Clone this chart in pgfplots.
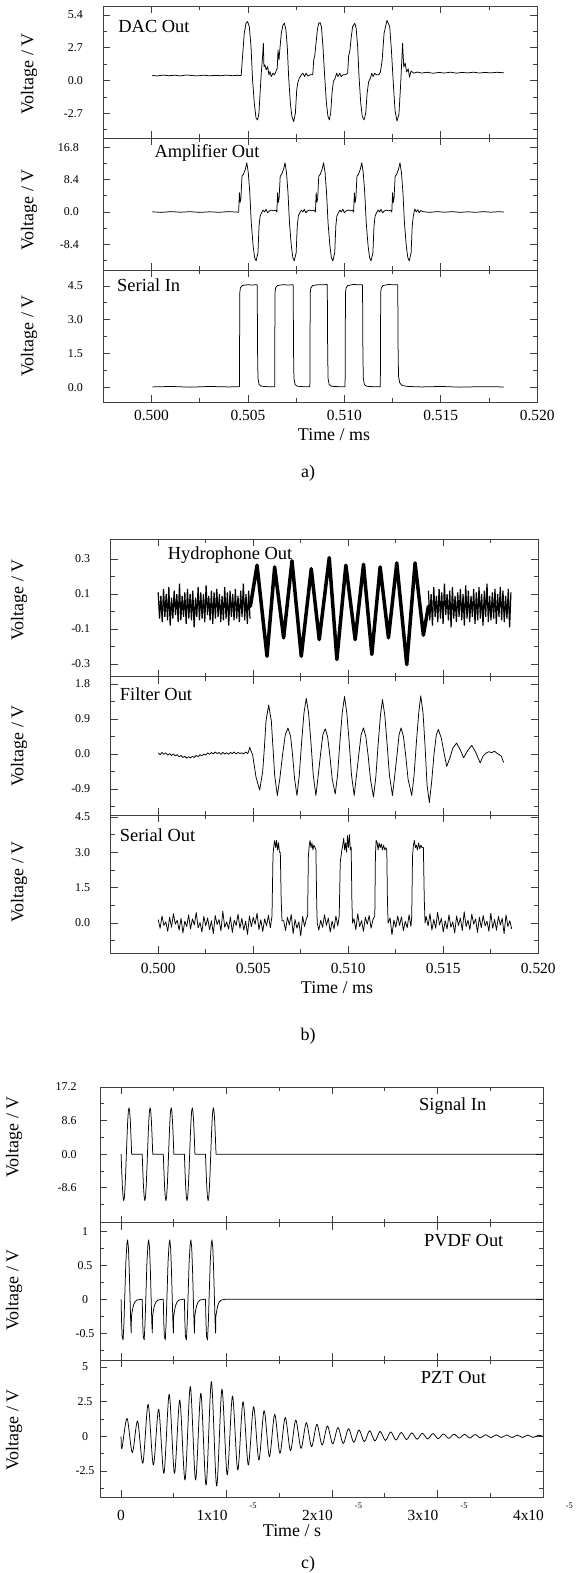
\documentclass[border=0pt]{standalone}
\usepackage{pgfplots}
\pgfplotsset{compat=1.18}
\usepackage{fontspec}
\setmainfont{Liberation Serif}
\newcommand\fs[1]{\fontsize{#1}{#1}\selectfont}
\pgfplotsset{
  panel/.style={
    scale only axis, anchor=north west, clip=true,
    tick align=inside, major tick length=7bp, minor tick length=4bp,
    axis line style={line width=0.9bp, black!75},
    tick style={line width=0.8bp, black!75},
    scaled ticks=false,
    yticklabel style={font=\fs{12}},
    xticklabel style={font=\fs{15.5}, anchor=base},
    xticklabels={,,,,},
  },
  abx/.style={xmin=0.4975, xmax=0.520, xtick={0.500,0.505,0.510,0.515,0.520}, minor x tick num=1},
  cx/.style={xmin=-2e-6, xmax=4e-5, xtick={0,1e-5,2e-5,3e-5,4e-5}, minor x tick num=1},
  tr/.style={black, line width=0.75bp, line join=round, mark=none},
}
\begin{document}
\begin{tikzpicture}[x=1bp,y=1bp]
\useasboundingbox (0,0) rectangle (585,-1573);
% ================= group a =================
\begin{axis}[panel, abx, at={(103.3bp,-6bp)}, width=433.9bp, height=132bp,
  ymin=-4.73, ymax=6.14, ytick={-2.7,0,2.7,5.4}, yticklabels={-2.7,0.0,2.7,5.4},
  minor ytick={-4.05,-1.35,1.35,4.05}, yticklabel style={xshift=-17bp}]
\addplot[tr] coordinates {
(0.50004,0.42) (0.50030,0.38) (0.50060,0.45) (0.50090,0.40) (0.50120,0.44) (0.50150,0.38) (0.50180,0.46) (0.50210,0.41) (0.50240,0.39) (0.50270,0.44) (0.50300,0.39) (0.50330,0.43) (0.50360,0.40) (0.50390,0.45) (0.50420,0.40) (0.50445,0.43) (0.50465,0.41)
(0.50472,1.98) (0.50481,3.90) (0.50490,4.72) (0.50498,4.86) (0.50507,4.45) (0.50516,2.80) (0.50524,0.05) (0.50533,-1.87) (0.50542,-3.10) (0.50550,-3.24) (0.50557,-2.69) (0.50564,-0.77) (0.50569,0.60) (0.50576,1.98) (0.50580,3.07) (0.50583,1.15) (0.50588,1.29) (0.50595,0.88) (0.50602,1.15) (0.50609,0.47) (0.50614,0.74) (0.50621,0.33) (0.50630,0.60) (0.50638,0.47) (0.50645,0.74) (0.50652,1.02) (0.50656,2.52) (0.50661,1.70) (0.50666,2.66) (0.50673,3.90) (0.50682,4.58) (0.50689,4.72) (0.50697,4.17) (0.50704,2.80) (0.50711,0.33) (0.50720,-1.87) (0.50728,-2.96) (0.50737,-3.38) (0.50746,-2.69) (0.50753,-0.77) (0.50758,-0.22) (0.50766,0.19) (0.50777,0.47) (0.50785,0.60) (0.50794,0.33) (0.50801,0.60) (0.50811,0.38) (0.50822,0.47) (0.50836,0.47) (0.50841,1.70) (0.50846,1.98) (0.50853,3.07) (0.50860,4.17) (0.50867,4.72) (0.50874,4.77) (0.50881,4.45) (0.50889,2.80) (0.50898,0.33) (0.50907,-1.87) (0.50915,-2.96) (0.50922,-3.24) (0.50929,-2.69) (0.50936,-1.04) (0.50943,-0.08) (0.50952,0.19) (0.50960,0.60) (0.50967,0.33) (0.50976,0.60) (0.50984,0.33) (0.50993,0.47) (0.51005,0.47) (0.51017,0.60) (0.51022,1.98) (0.51029,2.52) (0.51036,3.62) (0.51043,4.45) (0.51054,4.72) (0.51061,4.31) (0.51069,2.80) (0.51076,0.33) (0.51085,-1.87) (0.51093,-2.96) (0.51102,-3.24) (0.51111,-2.69) (0.51118,-1.04) (0.51126,-0.08) (0.51135,0.19) (0.51142,0.60) (0.51149,0.33) (0.51157,0.60) (0.51166,0.47) (0.51178,0.47) (0.51187,0.70) (0.51196,1.67) (0.51206,3.90) (0.51221,4.96) (0.51235,4.45) (0.51244,2.50) (0.51254,-0.28) (0.51263,-2.50) (0.51273,-3.34) (0.51283,-2.78) (0.51292,-0.28) (0.51302,3.06) (0.51308,1.11) (0.51315,1.45) (0.51323,0.70) (0.51331,0.97) (0.51338,0.28) (0.51346,0.78) (0.51360,0.61) (0.51379,0.70)
(0.51400,0.62) (0.51430,0.68) (0.51460,0.60) (0.51490,0.67) (0.51520,0.62) (0.51550,0.69) (0.51580,0.61) (0.51610,0.67) (0.51640,0.63) (0.51670,0.69) (0.51700,0.62) (0.51730,0.67) (0.51760,0.63) (0.51790,0.68) (0.51827,0.64)
};
\end{axis}
\begin{axis}[panel, abx, at={(103.3bp,-138bp)}, width=433.9bp, height=132bp,
  ymin=-15.08, ymax=19.24, ytick={-8.4,0,8.4,16.8}, yticklabels={-8.4,0.0,8.4,16.8},
  minor ytick={-12.6,-4.2,4.2,12.6}, yticklabel style={xshift=-21bp}]
\addplot[tr] coordinates {
(0.50004,0.05) (0.50050,-0.10) (0.50100,0.10) (0.50150,-0.05) (0.50200,0.08) (0.50250,-0.10) (0.50300,0.05) (0.50350,-0.08) (0.50400,0.10) (0.50450,-0.05)
(0.504519,0) (0.504557,5.0) (0.504596,2.5) (0.504634,3.5) (0.504692,9.3) (0.504769,9.8) (0.504865,11.1) (0.504942,12.8) (0.505019,10.2) (0.505096,5.0) (0.505173,-2.8) (0.505269,-8.8) (0.505346,-11.8) (0.505423,-12.7) (0.505519,-10.6) (0.505577,-3.6) (0.505634,-1.0) (0.505711,-0.2) (0.505788,0.5) (0.505865,0.0) (0.505942,0.7) (0.506019,-0.2) (0.506115,0.3) (0.506211,0.5) (0.506327,0.3) (0.506442,0.5)
(0.506500,0) (0.506538,5.0) (0.506577,2.5) (0.506615,3.5) (0.506673,9.3) (0.506750,9.8) (0.506846,11.1) (0.506923,12.8) (0.507000,10.2) (0.507077,5.0) (0.507154,-2.8) (0.507250,-8.8) (0.507327,-11.8) (0.507404,-12.7) (0.507500,-10.6) (0.507558,-3.6) (0.507615,-1.0) (0.507692,-0.2) (0.507769,0.5) (0.507846,0.0) (0.507923,0.7) (0.508000,-0.2) (0.508096,0.3) (0.508192,0.5) (0.508308,0.3) (0.508423,0.5)
(0.508500,0) (0.508538,5.0) (0.508577,2.5) (0.508615,3.5) (0.508673,9.3) (0.508750,9.8) (0.508846,11.1) (0.508923,12.8) (0.509000,10.2) (0.509077,5.0) (0.509154,-2.8) (0.509250,-8.8) (0.509327,-11.8) (0.509404,-12.7) (0.509500,-10.6) (0.509558,-3.6) (0.509615,-1.0) (0.509692,-0.2) (0.509769,0.5) (0.509846,0.0) (0.509923,0.7) (0.510000,-0.2) (0.510096,0.3) (0.510192,0.5) (0.510308,0.3) (0.510423,0.5)
(0.510480,0) (0.510518,5.0) (0.510557,2.5) (0.510595,3.5) (0.510653,9.3) (0.510730,9.8) (0.510826,11.1) (0.510903,12.8) (0.510980,10.2) (0.511057,5.0) (0.511134,-2.8) (0.511230,-8.8) (0.511307,-11.8) (0.511384,-12.7) (0.511480,-10.6) (0.511538,-3.6) (0.511595,-1.0) (0.511672,-0.2) (0.511749,0.5) (0.511826,0.0) (0.511903,0.7) (0.511980,-0.2) (0.512076,0.3) (0.512172,0.5) (0.512288,0.3) (0.512403,0.5)
(0.512461,0) (0.512499,5.0) (0.512538,2.5) (0.512576,3.5) (0.512634,9.3) (0.512711,9.8) (0.512807,11.1) (0.512884,12.8) (0.512961,10.2) (0.513038,5.0) (0.513115,-2.8) (0.513211,-8.8) (0.513288,-11.8) (0.513365,-12.7) (0.513461,-10.6) (0.513519,-3.6) (0.513576,-1.0) (0.513653,0.8) (0.513730,0.0) (0.513807,0.6) (0.513884,-0.2) (0.513961,0.4) (0.514076,0.1)
(0.51440,-0.1) (0.51480,0.1) (0.51520,-0.05) (0.51560,0.1) (0.51600,-0.1) (0.51640,0.05) (0.51680,-0.08) (0.51720,0.1) (0.51760,-0.05) (0.51800,0.08) (0.51827,0.0)
};
\end{axis}
\begin{axis}[panel, abx, at={(103.3bp,-270bp)}, width=433.9bp, height=132bp,
  ymin=-0.65, ymax=5.21, ytick={0,1.5,3,4.5}, yticklabels={0.0,1.5,3.0,4.5},
  minor ytick={0.75,2.25,3.75}, yticklabel style={xshift=-17bp},
  xticklabels={0.500,0.505,0.510,0.515,0.520}, xticklabel style={yshift=-18bp}]
\addplot[tr] coordinates {
(0.50004,0.02) (0.50100,0.04) (0.50200,0.01) (0.50300,0.04) (0.50400,0.02) (0.504548,0.03)
(0.504558,0.03) (0.504578,4.2) (0.504610,4.42) (0.504700,4.52) (0.505000,4.56) (0.505200,4.54) (0.505471,4.56) (0.505481,4.5) (0.505501,1.5) (0.505521,0.4) (0.505580,0.12) (0.505700,0.05) (0.506000,0.03) (0.506374,0.03)
(0.506384,0.03) (0.506404,4.2) (0.506436,4.42) (0.506526,4.52) (0.506800,4.56) (0.507100,4.54) (0.507336,4.56) (0.507346,4.5) (0.507366,1.5) (0.507386,0.4) (0.507445,0.12) (0.507565,0.05) (0.507900,0.03) (0.508201,0.03)
(0.508211,0.03) (0.508231,4.2) (0.508263,4.42) (0.508353,4.52) (0.508650,4.56) (0.508900,4.55) (0.509105,4.57) (0.509115,4.5) (0.509135,1.5) (0.509155,0.4) (0.509214,0.12) (0.509334,0.05) (0.509700,0.03) (0.510028,0.03)
(0.510038,0.03) (0.510058,4.2) (0.510090,4.42) (0.510180,4.52) (0.510480,4.57) (0.510750,4.55) (0.510932,4.56) (0.510942,4.5) (0.510962,1.5) (0.510982,0.4) (0.511041,0.12) (0.511161,0.05) (0.511500,0.03) (0.511855,0.03)
(0.511865,0.03) (0.511885,4.2) (0.511917,4.42) (0.512007,4.52) (0.512300,4.57) (0.512550,4.55) (0.512759,4.56) (0.512769,4.5) (0.512789,1.5) (0.512809,0.5) (0.512870,0.2) (0.513000,0.08) (0.513300,0.04)
(0.51400,0.02) (0.51500,0.04) (0.51600,0.01) (0.51700,0.03) (0.51827,0.02)
};
\end{axis}
% ================= group b =================
\begin{axis}[panel, abx, at={(110.7bp,-539.3bp)}, width=427.6bp, height=137.2bp,
  ymin=-0.371, ymax=0.413, ytick={-0.3,-0.1,0.1,0.3}, yticklabels={-0.3,-0.1,0.1,0.3},
  minor ytick={-0.2,0,0.2}, yticklabel style={xshift=-17bp}]
\addplot[black, line width=1.2bp, mark=none] coordinates {
(0.50000,0.11) (0.50007,-0.04) (0.50014,0.09) (0.50021,-0.06) (0.50028,0.13) (0.50035,-0.03) (0.50042,0.10) (0.50049,-0.05) (0.50056,0.14) (0.50063,-0.08) (0.50070,0.08) (0.50077,-0.04) (0.50084,0.12) (0.50091,-0.02) (0.50098,0.10) (0.50105,-0.06) (0.50112,0.16) (0.50119,-0.05) (0.50126,0.09) (0.50133,-0.03) (0.50140,0.11) (0.50147,-0.07) (0.50154,0.13) (0.50161,-0.04) (0.50168,0.10) (0.50175,-0.05) (0.50182,0.12) (0.50189,-0.09) (0.50196,0.08) (0.50203,-0.03) (0.50210,0.14) (0.50217,-0.05) (0.50224,0.11) (0.50231,-0.04) (0.50238,0.10) (0.50245,-0.06) (0.50252,0.15) (0.50259,-0.02) (0.50266,0.09) (0.50273,-0.05) (0.50280,0.12) (0.50287,-0.07) (0.50294,0.11) (0.50301,-0.04) (0.50308,0.13) (0.50315,-0.03) (0.50322,0.10) (0.50329,-0.06) (0.50336,0.09) (0.50343,-0.05) (0.50350,0.14) (0.50357,-0.04) (0.50364,0.11) (0.50371,-0.08) (0.50378,0.12) (0.50385,-0.03) (0.50392,0.10) (0.50399,-0.05) (0.50406,0.13) (0.50413,-0.04) (0.50420,0.09) (0.50427,-0.06) (0.50434,0.12) (0.50441,-0.03) (0.50448,0.16) (0.50455,-0.05) (0.50462,0.10) (0.50469,-0.07) (0.50476,0.12) (0.50483,-0.04)
};
\addplot[black, line width=3.5bp, line join=round, line cap=round, mark=none] coordinates {
(0.504849,0.03) (0.505200,0.265) (0.505725,-0.255) (0.506127,0.255) (0.506600,-0.15) (0.507038,0.29) (0.507528,-0.255) (0.508053,0.245) (0.508473,-0.16) (0.508999,0.308) (0.509401,-0.274) (0.509874,0.265) (0.510364,-0.16) (0.510802,0.27) (0.511239,-0.245) (0.511677,0.255) (0.512115,-0.15) (0.512553,0.278) (0.513078,-0.303) (0.513515,0.278) (0.513953,-0.135) (0.514216,0.03)
};
\addplot[black, line width=1.2bp, mark=none] coordinates {
(0.51422,0.12) (0.51429,-0.05) (0.51436,0.10) (0.51443,-0.08) (0.51450,0.14) (0.51457,-0.03) (0.51464,0.09) (0.51471,-0.06) (0.51478,0.13) (0.51485,-0.04) (0.51492,0.11) (0.51499,-0.07) (0.51506,0.16) (0.51513,-0.02) (0.51520,0.10) (0.51527,-0.05) (0.51534,0.12) (0.51541,-0.09) (0.51548,0.14) (0.51555,-0.04) (0.51562,0.09) (0.51569,-0.06) (0.51576,0.11) (0.51583,-0.03) (0.51590,0.13) (0.51597,-0.05) (0.51604,0.10) (0.51611,-0.08) (0.51618,0.15) (0.51625,-0.04) (0.51632,0.12) (0.51639,-0.06) (0.51646,0.09) (0.51653,-0.03) (0.51660,0.13) (0.51667,-0.07) (0.51674,0.11) (0.51681,-0.05) (0.51688,0.14) (0.51695,-0.04) (0.51702,0.10) (0.51709,-0.08) (0.51716,0.12) (0.51723,-0.03) (0.51730,0.16) (0.51737,-0.06) (0.51744,0.09) (0.51751,-0.05) (0.51758,0.11) (0.51765,-0.04) (0.51772,0.13) (0.51779,-0.07) (0.51786,0.10) (0.51793,-0.03) (0.51800,0.14) (0.51807,-0.05) (0.51814,0.12) (0.51821,-0.06) (0.51828,0.09) (0.51835,-0.04) (0.51842,0.13) (0.51849,-0.09) (0.51856,0.11)
};
\end{axis}
\begin{axis}[panel, abx, at={(110.7bp,-676.5bp)}, width=427.6bp, height=138.5bp,
  ymin=-1.572, ymax=1.994, ytick={-0.9,0,0.9,1.8}, yticklabels={-0.9,0.0,0.9,1.8},
  minor ytick={-1.35,-0.45,0.45,1.35}, yticklabel style={xshift=-17bp}]
\addplot[tr] coordinates {
(0.50000,0.03) (0.50010,-0.02) (0.50020,0.04) (0.50030,-0.01) (0.50040,0.03) (0.50050,-0.03) (0.50060,0.01) (0.50070,-0.04) (0.50080,0.00) (0.50090,-0.05) (0.50100,-0.02) (0.50110,-0.07) (0.50120,-0.04) (0.50130,-0.09) (0.50140,-0.06) (0.50150,-0.11) (0.50160,-0.07) (0.50170,-0.10) (0.50180,-0.06) (0.50190,-0.09) (0.50200,-0.04) (0.50210,-0.07) (0.50220,-0.02) (0.50230,-0.05) (0.50240,0.00) (0.50250,-0.03) (0.50260,0.03) (0.50270,-0.01) (0.50280,0.04) (0.50290,0.00) (0.50300,0.05) (0.50310,0.01) (0.50320,0.04) (0.50330,-0.01) (0.50340,0.04) (0.50350,0.00) (0.50360,0.03) (0.50370,-0.01) (0.50380,0.04) (0.50390,0.01) (0.50400,0.05) (0.50410,0.00) (0.50420,0.04) (0.50430,0.01) (0.50440,0.03) (0.50450,0.00) (0.50460,0.05) (0.50470,0.01) (0.50475,0.05)
(0.504814,0.17) (0.504972,-0.03) (0.505147,-0.60) (0.505340,-0.93) (0.505497,-0.45) (0.505585,0.15) (0.505672,0.85) (0.505812,1.26) (0.505952,0.85) (0.506040,0.15) (0.506127,-0.55) (0.506268,-1.07) (0.506408,-0.60) (0.506548,0.00) (0.506688,0.50) (0.506828,0.67) (0.506968,0.45) (0.507073,-0.05) (0.507178,-0.65) (0.507300,-1.07) (0.507423,-0.55) (0.507546,0.30) (0.507668,1.05) (0.507791,1.43) (0.507913,1.05) (0.508036,0.30) (0.508158,-0.55) (0.508298,-1.07) (0.508421,-0.55) (0.508543,0.00) (0.508666,0.50) (0.508789,0.65) (0.508911,0.45) (0.509034,-0.05) (0.509156,-0.65) (0.509314,-1.03) (0.509436,-0.55) (0.509559,0.30) (0.509681,1.05) (0.509804,1.48) (0.509926,1.05) (0.510049,0.30) (0.510172,-0.55) (0.510312,-1.07) (0.510434,-0.55) (0.510557,0.00) (0.510679,0.50) (0.510802,0.67) (0.510924,0.45) (0.511047,-0.05) (0.511169,-0.65) (0.511327,-1.11) (0.511450,-0.60) (0.511572,0.25) (0.511695,1.00) (0.511800,1.40) (0.511922,1.00) (0.512045,0.25) (0.512167,-0.55) (0.512325,-1.07) (0.512448,-0.55) (0.512570,0.00) (0.512675,0.50) (0.512780,0.67) (0.512903,0.45) (0.513025,-0.05) (0.513148,-0.65) (0.513340,-1.07) (0.513463,-0.55) (0.513585,0.30) (0.513708,1.05) (0.513813,1.50) (0.513936,1.05) (0.514041,0.20) (0.514146,-0.80) (0.514268,-1.25) (0.514391,-0.70) (0.514513,0.00) (0.514636,0.50) (0.514741,0.63)
(0.51490,0.40) (0.51505,0.00) (0.51518,-0.32) (0.51535,-0.10) (0.51550,0.15) (0.51570,0.28) (0.51590,0.10) (0.51607,-0.10) (0.51630,0.10) (0.51650,0.22) (0.51670,0.05) (0.51694,-0.23) (0.51710,-0.05) (0.51724,0.02) (0.51740,0.06) (0.51753,0.03) (0.51770,0.07) (0.51782,0.02) (0.51795,-0.02) (0.51806,-0.06) (0.51812,-0.15) (0.51818,-0.22)
};
\end{axis}
\begin{axis}[panel, abx, at={(110.7bp,-815bp)}, width=427.6bp, height=138bp,
  ymin=-1.27, ymax=4.58, ytick={0,1.5,3,4.5}, yticklabels={0.0,1.5,3.0,4.5},
  minor ytick={-0.75,0.75,2.25,3.75}, yticklabel style={xshift=-17bp},
  xticklabels={0.500,0.505,0.510,0.515,0.520}, xticklabel style={yshift=-20.3bp}]
\addplot[tr] coordinates {
(0.50000,0.15) (0.50010,-0.22) (0.50020,0.30) (0.50030,-0.10) (0.50040,0.05) (0.50050,-0.35) (0.50060,0.25) (0.50070,-0.18) (0.50080,0.40) (0.50090,-0.05) (0.50100,0.12) (0.50110,-0.30) (0.50120,0.20) (0.50130,-0.42) (0.50140,0.08) (0.50150,-0.15) (0.50160,0.35) (0.50170,-0.25) (0.50180,0.18) (0.50190,-0.08) (0.50200,0.45) (0.50210,-0.20) (0.50220,0.02) (0.50230,-0.38) (0.50240,0.28) (0.50250,-0.12) (0.50260,0.22) (0.50270,-0.28) (0.50280,0.10) (0.50290,-0.45) (0.50300,0.32) (0.50310,-0.06) (0.50320,0.15) (0.50330,-0.33) (0.50340,0.50) (0.50350,-0.18) (0.50360,0.05) (0.50370,-0.25) (0.50380,0.26) (0.50390,-0.40) (0.50400,0.12) (0.50410,-0.10) (0.50420,0.38) (0.50430,-0.22) (0.50440,0.20) (0.50450,-0.30) (0.50460,0.08) (0.50470,-0.48) (0.50480,0.30) (0.50490,-0.15) (0.50500,0.24) (0.50510,-0.05) (0.50520,0.42) (0.50530,-0.28) (0.50540,0.14) (0.50550,-0.36) (0.50560,0.18) (0.50570,-0.12) (0.50580,0.33) (0.50590,-0.20)
(0.505987,0.3) (0.506040,2.9) (0.506090,3.3) (0.506130,3.5) (0.506180,3.2) (0.506230,3.5) (0.506280,3.1) (0.506330,3.4) (0.506380,3.0) (0.506425,3.0) (0.506470,1.0) (0.506513,0.1)
(0.50660,0.10) (0.50670,-0.32) (0.50680,0.25) (0.50690,-0.08) (0.50700,0.36) (0.50710,-0.45) (0.50720,0.15) (0.50730,-0.22) (0.50740,0.05) (0.50750,-0.55) (0.50760,0.28) (0.50770,-0.15) (0.50780,0.20)
(0.507861,0.3) (0.507900,2.8) (0.507948,3.3) (0.507990,3.5) (0.508040,3.2) (0.508090,3.4) (0.508140,3.1) (0.508190,3.3) (0.508250,3.2) (0.508298,3.1) (0.508340,0.8) (0.508368,0.0)
(0.50845,-0.30) (0.50855,0.12) (0.50865,-0.18) (0.50875,0.35) (0.50885,-0.10) (0.50895,0.22) (0.50905,-0.38) (0.50915,0.08) (0.50925,-0.25) (0.50935,0.30) (0.50945,-0.12)
(0.509524,0.3) (0.509580,2.6) (0.509664,3.1) (0.509710,3.3) (0.509760,3.6) (0.509810,3.1) (0.509860,3.4) (0.509910,3.0) (0.509960,3.7) (0.510010,3.2) (0.510060,3.75) (0.510110,3.1) (0.510154,3.2) (0.510190,1.0) (0.510224,0.0)
(0.51030,0.18) (0.51040,-0.28) (0.51050,0.40) (0.51060,-0.15) (0.51070,0.10) (0.51080,-0.35) (0.51090,0.25) (0.51100,-0.05) (0.51110,0.32) (0.51120,-0.22) (0.51130,0.15)
(0.511397,0.3) (0.511430,2.9) (0.511467,3.5) (0.511520,3.4) (0.511570,3.1) (0.511620,3.4) (0.511680,3.2) (0.511740,3.35) (0.511800,3.1) (0.511860,3.3) (0.511920,3.1) (0.511980,3.2) (0.512027,3.1) (0.512060,1.0) (0.512097,0.0)
(0.51220,0.22) (0.51230,-0.50) (0.51240,0.12) (0.51250,-0.18) (0.51260,0.30) (0.51270,-0.10) (0.51280,0.26) (0.51290,-0.32) (0.51300,0.08) (0.51310,-0.20) (0.51320,0.35) (0.51330,-0.15)
(0.513340,0.3) (0.513380,2.8) (0.513428,3.3) (0.513480,3.5) (0.513530,3.2) (0.513580,3.3) (0.513640,3.1) (0.513700,3.4) (0.513760,3.15) (0.513820,3.3) (0.513880,3.2) (0.513953,3.2) (0.514000,1.0) (0.514041,0.0)
(0.51410,0.28) (0.51420,-0.12) (0.51430,0.40) (0.51440,-0.30) (0.51450,0.15) (0.51460,-0.22) (0.51470,0.45) (0.51480,-0.08) (0.51490,0.20) (0.51500,-0.38) (0.51510,0.10) (0.51520,-0.25) (0.51530,0.35) (0.51540,-0.18) (0.51550,0.05) (0.51560,-0.42) (0.51570,0.30) (0.51580,-0.10) (0.51590,0.22) (0.51600,-0.32) (0.51610,0.48) (0.51620,-0.15) (0.51630,0.12) (0.51640,-0.28) (0.51650,0.38) (0.51660,-0.05) (0.51670,0.18) (0.51680,-0.40) (0.51690,0.25) (0.51700,-0.20) (0.51710,0.32) (0.51720,-0.12) (0.51730,0.08) (0.51740,-0.35) (0.51750,0.42) (0.51760,-0.22) (0.51770,0.15) (0.51780,-0.30) (0.51790,0.28) (0.51800,-0.08) (0.51810,0.20) (0.51820,-0.45) (0.51830,0.35) (0.51840,-0.15) (0.51850,0.10) (0.51860,-0.25)
};
\end{axis}
% ================= group c =================
\begin{axis}[panel, cx, at={(100bp,-1087bp)}, width=443bp, height=135.7bp,
  ymin=-17.56, ymax=17.2, ytick={-8.6,0,8.6,17.2}, yticklabels={-8.6,0.0,8.6,17.2},
  minor ytick={-12.9,-4.3,4.3,12.9}, yticklabel style={xshift=-20bp}]
\addplot[tr] coordinates {
(0,0) (0.0625e-6,-4.55) (0.125e-6,-8.41) (0.1875e-6,-11.0) (0.25e-6,-11.9) (0.3125e-6,-11.0) (0.375e-6,-8.41) (0.4375e-6,-4.55) (0.5e-6,0) (0.5625e-6,4.55) (0.625e-6,8.41) (0.6875e-6,11.0) (0.75e-6,11.9) (0.8125e-6,11.0) (0.875e-6,8.41) (0.9375e-6,4.55) (1e-6,0)
(2e-6,0) (2.0625e-6,-4.55) (2.125e-6,-8.41) (2.1875e-6,-11.0) (2.25e-6,-11.9) (2.3125e-6,-11.0) (2.375e-6,-8.41) (2.4375e-6,-4.55) (2.5e-6,0) (2.5625e-6,4.55) (2.625e-6,8.41) (2.6875e-6,11.0) (2.75e-6,11.9) (2.8125e-6,11.0) (2.875e-6,8.41) (2.9375e-6,4.55) (3e-6,0)
(4e-6,0) (4.0625e-6,-4.55) (4.125e-6,-8.41) (4.1875e-6,-11.0) (4.25e-6,-11.9) (4.3125e-6,-11.0) (4.375e-6,-8.41) (4.4375e-6,-4.55) (4.5e-6,0) (4.5625e-6,4.55) (4.625e-6,8.41) (4.6875e-6,11.0) (4.75e-6,11.9) (4.8125e-6,11.0) (4.875e-6,8.41) (4.9375e-6,4.55) (5e-6,0)
(6e-6,0) (6.0625e-6,-4.55) (6.125e-6,-8.41) (6.1875e-6,-11.0) (6.25e-6,-11.9) (6.3125e-6,-11.0) (6.375e-6,-8.41) (6.4375e-6,-4.55) (6.5e-6,0) (6.5625e-6,4.55) (6.625e-6,8.41) (6.6875e-6,11.0) (6.75e-6,11.9) (6.8125e-6,11.0) (6.875e-6,8.41) (6.9375e-6,4.55) (7e-6,0)
(8e-6,0) (8.0625e-6,-4.55) (8.125e-6,-8.41) (8.1875e-6,-11.0) (8.25e-6,-11.9) (8.3125e-6,-11.0) (8.375e-6,-8.41) (8.4375e-6,-4.55) (8.5e-6,0) (8.5625e-6,4.55) (8.625e-6,8.41) (8.6875e-6,11.0) (8.75e-6,11.9) (8.8125e-6,11.0) (8.875e-6,8.41) (8.9375e-6,4.55) (9e-6,0)
(4e-5,0)
};
\end{axis}
\begin{axis}[panel, cx, at={(100bp,-1222.7bp)}, width=443bp, height=137.3bp,
  ymin=-0.898, ymax=1.133, ytick={-0.5,0,0.5,1}, yticklabels={-0.5,0,0.5,1},
  minor ytick={-0.75,-0.25,0.25,0.75}, yticklabel style={anchor=center, xshift=-15bp}]
\addplot[tr] coordinates {
(0,0) (0.05e-6,-0.35) (0.10e-6,-0.55) (0.19e-6,-0.60) (0.27e-6,-0.35) (0.36e-6,0.10) (0.45e-6,0.55) (0.55e-6,0.82) (0.62e-6,0.88) (0.70e-6,0.75) (0.78e-6,0.40) (0.86e-6,-0.05) (0.92e-6,-0.38) (0.96e-6,-0.50) (0.98e-6,-0.26) (1.05e-6,-0.18) (1.15e-6,-0.10) (1.30e-6,-0.04) (1.50e-6,-0.01) (1.90e-6,0)
(2e-6,0) (2.05e-6,-0.35) (2.10e-6,-0.55) (2.19e-6,-0.60) (2.27e-6,-0.35) (2.36e-6,0.10) (2.45e-6,0.55) (2.55e-6,0.82) (2.62e-6,0.88) (2.70e-6,0.75) (2.78e-6,0.40) (2.86e-6,-0.05) (2.92e-6,-0.38) (2.96e-6,-0.50) (2.98e-6,-0.26) (3.05e-6,-0.18) (3.15e-6,-0.10) (3.30e-6,-0.04) (3.50e-6,-0.01) (3.90e-6,0)
(4e-6,0) (4.05e-6,-0.35) (4.10e-6,-0.55) (4.19e-6,-0.60) (4.27e-6,-0.35) (4.36e-6,0.10) (4.45e-6,0.55) (4.55e-6,0.82) (4.62e-6,0.88) (4.70e-6,0.75) (4.78e-6,0.40) (4.86e-6,-0.05) (4.92e-6,-0.38) (4.96e-6,-0.50) (4.98e-6,-0.26) (5.05e-6,-0.18) (5.15e-6,-0.10) (5.30e-6,-0.04) (5.50e-6,-0.01) (5.90e-6,0)
(6e-6,0) (6.05e-6,-0.35) (6.10e-6,-0.55) (6.19e-6,-0.60) (6.27e-6,-0.35) (6.36e-6,0.10) (6.45e-6,0.55) (6.55e-6,0.82) (6.62e-6,0.88) (6.70e-6,0.75) (6.78e-6,0.40) (6.86e-6,-0.05) (6.92e-6,-0.38) (6.96e-6,-0.50) (6.98e-6,-0.26) (7.05e-6,-0.18) (7.15e-6,-0.10) (7.30e-6,-0.04) (7.50e-6,-0.01) (7.90e-6,0)
(8e-6,0) (8.05e-6,-0.35) (8.10e-6,-0.55) (8.19e-6,-0.60) (8.27e-6,-0.35) (8.36e-6,0.10) (8.45e-6,0.55) (8.55e-6,0.82) (8.62e-6,0.88) (8.70e-6,0.75) (8.78e-6,0.40) (8.86e-6,-0.05) (8.92e-6,-0.38) (8.96e-6,-0.50) (8.98e-6,-0.26) (9.05e-6,-0.18) (9.15e-6,-0.10) (9.30e-6,-0.04) (9.50e-6,-0.01) (9.90e-6,0)
(4e-5,0)
};
\end{axis}
\begin{axis}[panel, cx, at={(100bp,-1360bp)}, width=443bp, height=137bp,
  ymin=-4.38, ymax=5.505, ytick={-2.5,0,2.5,5}, yticklabels={-2.5,0,2.5,5},
  minor ytick={-3.75,-1.25,1.25,3.75}, yticklabel style={anchor=center, xshift=-15bp},
  xticklabels={0,
   {1x10\hspace{22bp}\raisebox{12bp}{\fs{8.5}-5}},
   {2x10\hspace{22bp}\raisebox{12bp}{\fs{8.5}-5}},
   {3x10\hspace{22bp}\raisebox{12bp}{\fs{8.5}-5}},
   {4x10\hspace{22bp}\raisebox{12bp}{\fs{8.5}-5}}},
  xticklabel style={yshift=-23bp}]
\addplot[tr, smooth] coordinates {
(0,0) (0.08e-6,-0.87) (0.56e-6,1.30) (1.06e-6,-1.18) (1.56e-6,1.11) (2.06e-6,-1.95) (2.56e-6,2.31) (3.06e-6,-2.07) (3.56e-6,1.95) (4.06e-6,-2.67) (4.56e-6,3.03) (5.06e-6,-2.67) (5.56e-6,2.62) (6.06e-6,-3.15) (6.56e-6,3.59) (7.06e-6,-3.15) (7.56e-6,3.11) (8.06e-6,-3.52) (8.56e-6,3.95) (9.06e-6,-3.59) (9.56e-6,3.40) (10.06e-6,-2.79) (10.56e-6,2.91) (11.06e-6,-2.43) (11.56e-6,2.50) (12.06e-6,-2.07) (12.56e-6,2.14) (13.06e-6,-1.71) (13.56e-6,1.85) (14.06e-6,-1.47) (14.56e-6,1.59) (15.06e-6,-1.23) (15.56e-6,1.37) (16.06e-6,-1.04) (16.56e-6,1.18) (17.06e-6,-0.87) (17.56e-6,0.99) (18.06e-6,-0.75) (18.56e-6,0.87) (19.06e-6,-0.63) (19.56e-6,0.75) (20.06e-6,-0.55) (20.56e-6,0.63) (21.06e-6,-0.51) (21.56e-6,0.55) (22.06e-6,-0.43) (22.56e-6,0.46) (23.06e-6,-0.39) (23.56e-6,0.41) (24.06e-6,-0.34) (24.56e-6,0.36) (25.06e-6,-0.30) (25.56e-6,0.32) (26.06e-6,-0.27) (26.56e-6,0.28) (27.06e-6,-0.24) (27.56e-6,0.25) (28.06e-6,-0.21) (28.56e-6,0.22) (29.06e-6,-0.19) (29.56e-6,0.20) (30.06e-6,-0.17) (30.56e-6,0.18) (31.06e-6,-0.15) (31.56e-6,0.16) (32.06e-6,-0.13) (32.56e-6,0.14) (33.06e-6,-0.12) (33.56e-6,0.13) (34.06e-6,-0.11) (34.56e-6,0.12) (35.06e-6,-0.10) (35.56e-6,0.11) (36.06e-6,-0.09) (36.56e-6,0.10) (37.06e-6,-0.09) (37.56e-6,0.09) (38.06e-6,-0.08) (38.56e-6,0.09) (39.06e-6,-0.08) (39.56e-6,0.08) (40e-6,0)
};
\end{axis}
% ================= texts =================
\begin{scope}[every node/.style={inner sep=0pt, font=\fs{18.5}}]
\node[anchor=base west] at (118.2,-32.3) {DAC Out};
\node[anchor=base west] at (154.3,-157.3) {Amplifier Out};
\node[anchor=base west] at (117,-291.7) {Serial In};
\node[anchor=base west] at (167.7,-559.7) {Hydrophone Out};
\node[anchor=base west] at (119.7,-700.3) {Filter Out};
\node[anchor=base west] at (119.7,-841) {Serial Out};
\node[anchor=base west] at (419,-1110) {Signal In};
\node[anchor=base west] at (423.8,-1246) {PVDF Out};
\node[anchor=base west] at (420.7,-1383.3) {PZT Out};
\end{scope}
\begin{scope}[every node/.style={inner sep=0pt, font=\fs{18}}]
\node[rotate=90] at (29,-74) {Voltage / V};
\node[rotate=90] at (29,-210) {Voltage / V};
\node[rotate=90] at (29,-336) {Voltage / V};
\node[rotate=90] at (19,-600) {Voltage / V};
\node[rotate=90] at (19,-746) {Voltage / V};
\node[rotate=90] at (19,-882) {Voltage / V};
\node[rotate=90] at (14,-1137) {Voltage / V};
\node[rotate=90] at (14,-1290) {Voltage / V};
\node[rotate=90] at (14,-1430) {Voltage / V};
\node[anchor=base] at (334,-440) {Time / ms};
\node[anchor=base] at (337,-993.3) {Time / ms};
\node[anchor=base] at (292,-1536.7) {Time / s};
\node[anchor=base] at (308,-477) {a)};
\node[anchor=base] at (308,-1040) {b)};
\node[anchor=base] at (308,-1568) {c)};
\end{scope}
\end{tikzpicture}
\end{document}
